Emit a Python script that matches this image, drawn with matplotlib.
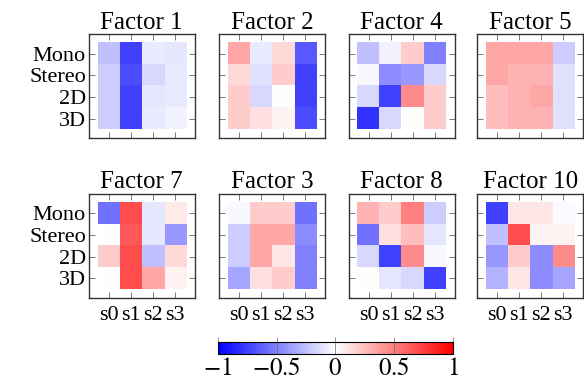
import numpy as np
import matplotlib
matplotlib.use('Agg')
import matplotlib.pyplot as plt

plt.rcParams['font.family'] = ['Liberation Serif', 'DejaVu Serif']
plt.rcParams['mathtext.fontset'] = 'stix'

rows = ['Mono', 'Stereo', '2D', '3D']
cols = ['s0', 's1', 's2', 's3']
factors = ['Factor 1', 'Factor 2', 'Factor 4', 'Factor 5',
           'Factor 7', 'Factor 3', 'Factor 8', 'Factor 10']

f1 = [[-0.25, -0.75, -0.08, -0.10],
      [-0.20, -0.70, -0.15, -0.08],
      [-0.20, -0.75, -0.10, -0.08],
      [-0.20, -0.75, -0.08, -0.05]]
f2 = [[0.35, -0.08, 0.15, -0.65],
      [0.15, -0.12, 0.20, -0.75],
      [0.20, -0.15, 0.00, -0.75],
      [0.20, 0.12, 0.05, -0.70]]
f4 = [[-0.25, -0.05, 0.20, -0.50],
      [-0.03, -0.45, -0.40, -0.15],
      [-0.15, -0.75, 0.45, 0.20],
      [-0.80, -0.15, 0.00, 0.20]]
f5 = [[0.35, 0.35, 0.35, -0.20],
      [0.35, 0.30, 0.30, -0.12],
      [0.25, 0.30, 0.35, -0.12],
      [0.25, 0.30, 0.30, -0.12]]
f7 = [[-0.55, 0.70, -0.10, 0.08],
      [0.00, 0.65, -0.10, -0.40],
      [0.20, 0.70, -0.25, 0.15],
      [0.00, 0.70, 0.35, 0.05]]
f3 = [[-0.03, 0.20, 0.20, -0.55],
      [-0.20, 0.35, 0.35, -0.45],
      [-0.20, 0.35, 0.10, -0.50],
      [-0.35, 0.12, 0.20, -0.50]]
f8 = [[0.30, 0.20, 0.50, -0.20],
      [-0.55, 0.12, 0.25, -0.10],
      [-0.15, -0.75, 0.45, -0.03],
      [0.00, -0.10, -0.15, -0.75]]
f10 = [[-0.75, 0.10, 0.10, -0.02],
       [-0.25, 0.70, 0.05, 0.05],
       [-0.40, 0.20, -0.45, 0.45],
       [-0.30, 0.10, -0.45, -0.35]]
values = [f1, f2, f4, f5, f7, f3, f8, f10]

fig = plt.figure(figsize=(5.84, 3.87), dpi=100)

lefts = [0.152, 0.375, 0.597, 0.817]
bottoms = [0.643, 0.230]
w, h = 0.1815, 0.269

im = None
for i, (name, v) in enumerate(zip(factors, values)):
    r, c = divmod(i, 4)
    ax = fig.add_axes([lefts[c], bottoms[r], w, h])
    im = ax.imshow(np.array(v), cmap='bwr', vmin=-1, vmax=1,
                   interpolation='nearest', aspect='auto')
    ax.set_xlim(-0.9, 3.9)
    ax.set_ylim(3.9, -0.9)
    ax.set_xticks(range(4))
    ax.set_yticks(range(4))
    ax.tick_params(direction='in', length=4, width=0.6, color='0.4',
                   top=True, right=True, labelsize=16, pad=2)
    ax.tick_params(axis='x', pad=6)
    ax.set_xticklabels(cols if r == 1 else [])
    ax.set_yticklabels(rows if c == 0 else [])
    for s in ax.spines.values():
        s.set_linewidth(1.0)
        s.set_color('0.2')
    ax.set_title(name, fontsize=18, pad=4)

cax = fig.add_axes([0.373, 0.085, 0.402, 0.031])
cb = fig.colorbar(im, cax=cax, orientation='horizontal',
                  ticks=[-1, -0.5, 0, 0.5, 1])
cb.ax.tick_params(direction='in', length=12, width=0.5, color='0.4',
                  labelsize=18, pad=3)
cb.ax.set_xticklabels(['$-1$', '$-0.5$', '$0$', '$0.5$', '$1$'])
cb.outline.set_linewidth(0.8)

fig.savefig('out.png', dpi=100)
